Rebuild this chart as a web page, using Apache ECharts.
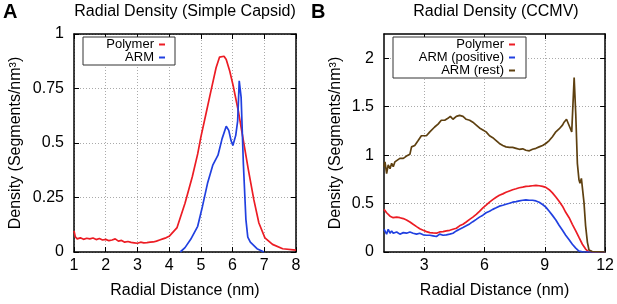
<!DOCTYPE html>
<html>
<head>
<meta charset="utf-8">
<script src="https://cdn.jsdelivr.net/npm/echarts@6/dist/echarts.min.js"></script>
<style>
  html, body { margin: 0; padding: 0; background: #fff; }
  #chart { width: 617px; height: 304px; }
</style>
</head>
<body>
<div id="chart"></div>
<script>
// panel A : simple capsid
const distA_polymer = [1.0, 1.04, 1.1, 1.2, 1.3, 1.4, 1.5, 1.6, 1.7, 1.8, 1.9, 2.0, 2.1, 2.2, 2.3, 2.4, 2.5, 2.6, 2.7, 2.8, 2.9, 3.0,
    3.1, 3.2, 3.3, 3.4, 3.5, 3.6, 3.7, 3.8, 3.9, 4.0, 4.25, 4.5, 4.73, 4.9, 5.0, 5.16, 5.32, 5.48, 5.59, 5.73, 5.8, 5.91,
    6.02, 6.18, 6.34, 6.5, 6.67, 6.83, 7.02, 7.26, 7.58, 8.0];
const densA_polymer = [0.097, 0.07, 0.06, 0.065, 0.058, 0.063, 0.06, 0.064, 0.057, 0.062, 0.055, 0.058, 0.052, 0.055, 0.06, 0.05,
    0.053, 0.045, 0.048, 0.044, 0.042, 0.04, 0.045, 0.042, 0.043, 0.045, 0.046, 0.05, 0.055, 0.06, 0.065, 0.072, 0.112,
    0.224, 0.345, 0.45, 0.527, 0.633, 0.74, 0.845, 0.894, 0.898, 0.883, 0.83, 0.762, 0.648, 0.512, 0.376, 0.24, 0.133,
    0.065, 0.035, 0.015, 0.009];
const distA_arm = [4.35, 4.5, 4.68, 4.9, 5.05, 5.21, 5.38, 5.54, 5.67, 5.8, 5.88, 5.95, 6.01, 6.1, 6.16, 6.21, 6.27, 6.34, 6.42,
    6.48, 6.56, 6.77, 6.99];
const densA_arm = [0, 0.02, 0.058, 0.118, 0.209, 0.315, 0.40, 0.444, 0.52, 0.577, 0.558, 0.512, 0.489, 0.535, 0.6, 0.785, 0.709,
    0.406, 0.15, 0.068, 0.045, 0.015, 0];

// panel B : CCMV
const distB = [1.0, 1.13, 1.21, 1.30, 1.38, 1.46, 1.63, 1.79, 1.96, 2.12, 2.29, 2.45, 2.62, 2.78, 2.95, 3.11, 3.28, 3.44, 3.61,
    3.77, 3.94, 4.10, 4.27, 4.43, 4.60, 4.76, 4.93, 5.09, 5.26, 5.42, 5.59, 5.75, 5.92, 6.08, 6.25, 6.41, 6.58, 6.74, 6.91,
    7.07, 7.24, 7.40, 7.57, 7.73, 7.90, 8.06, 8.23, 8.39, 8.56, 8.72, 8.89, 9.05, 9.22, 9.38, 9.55, 9.71, 9.88, 10.04,
    10.21, 10.37, 10.54, 10.70, 10.87, 11.03, 11.16, 11.36, 12.0];
const densB_polymer = [0.44, 0.405, 0.42, 0.37, 0.39, 0.354, 0.36, 0.354, 0.345, 0.33, 0.31, 0.286, 0.262, 0.24, 0.224, 0.21, 0.2,
    0.197, 0.194, 0.207, 0.21, 0.218, 0.224, 0.235, 0.245, 0.27, 0.286, 0.31, 0.337, 0.36, 0.388, 0.42, 0.456, 0.483, 0.514,
    0.54, 0.565, 0.585, 0.60, 0.616, 0.63, 0.643, 0.653, 0.663, 0.67, 0.677, 0.68, 0.684, 0.687, 0.684, 0.677, 0.667, 0.643,
    0.61, 0.568, 0.524, 0.473, 0.41, 0.354, 0.286, 0.218, 0.15, 0.08, 0.03, 0.007, 0.002, 0];
const densB_armPos = [0.235, 0.184, 0.235, 0.194, 0.218, 0.194, 0.207, 0.184, 0.2, 0.194, 0.207, 0.194, 0.184, 0.194, 0.177,
    0.173, 0.173, 0.167, 0.16, 0.184, 0.173, 0.177, 0.184, 0.194, 0.218, 0.235, 0.252, 0.27, 0.29, 0.313, 0.337, 0.36, 0.38,
    0.405, 0.42, 0.44, 0.456, 0.473, 0.483, 0.493, 0.503, 0.514, 0.52, 0.527, 0.534, 0.537, 0.534, 0.534, 0.527, 0.514, 0.49,
    0.463, 0.42, 0.378, 0.33, 0.276, 0.224, 0.173, 0.126, 0.08, 0.04, 0.01, 0.002, 0, 0, 0, 0];
const distB_rest = [1.0, 1.05, 1.1, 1.13, 1.21, 1.30, 1.38, 1.46, 1.54, 1.63, 1.79, 1.96, 2.12, 2.29, 2.37, 2.53, 2.70, 2.86,
    2.95, 3.11, 3.28, 3.52, 3.69, 3.85, 4.02, 4.18, 4.30, 4.43, 4.60, 4.76, 4.93, 5.09, 5.26, 5.42, 5.59, 5.75, 5.92, 6.08,
    6.25, 6.41, 6.58, 6.74, 6.91, 7.07, 7.24, 7.40, 7.57, 7.73, 7.90, 8.06, 8.23, 8.39, 8.56, 8.72, 8.89, 9.05, 9.22, 9.38,
    9.55, 9.71, 9.88, 9.96, 10.08, 10.16, 10.24, 10.34, 10.39, 10.46, 10.54, 10.62, 10.70, 10.75, 10.82, 10.87, 10.95,
    11.03, 11.12, 11.20, 11.36, 12.0];
const densB_rest = [0.88, 0.93, 0.915, 0.81, 0.90, 0.86, 0.915, 0.88, 0.93, 0.95, 0.966, 0.966, 0.99, 1.01, 1.085, 1.10, 1.15,
    1.20, 1.18, 1.20, 1.24, 1.29, 1.32, 1.36, 1.36, 1.38, 1.40, 1.37, 1.40, 1.41, 1.40, 1.37, 1.36, 1.34, 1.31, 1.28, 1.26,
    1.24, 1.20, 1.18, 1.15, 1.12, 1.10, 1.085, 1.08, 1.08, 1.07, 1.06, 1.065, 1.05, 1.044, 1.06, 1.07, 1.085, 1.10, 1.12,
    1.15, 1.19, 1.24, 1.27, 1.31, 1.34, 1.37, 1.36, 1.29, 1.24, 1.22, 1.80, 1.425, 0.915, 0.745, 0.71, 0.76, 0.745, 0.51,
    0.27, 0.10, 0.02, 0.005, 0];

const xTicksA = [1, 2, 3, 4, 5, 6, 7, 8];
const yTicksA = [0, 0.25, 0.5, 0.75, 1];
const xTicksB = [3, 6, 9, 12];
const yTicksB = [0, 0.5, 1, 1.5, 2];

const FONT = '"Liberation Sans", Arial, sans-serif';
const RED = '#ec1c24';
const BLUE = '#2140e0';
const BROWN = '#5e4010';

function pairs(xs, ys) {
    return xs.map(function (x, i) { return [x, ys[i]]; });
}

// 坐标轴 (gnuplot 风格: 四边框, 刻度朝内)
function axis(kind, grid, range, ticks, mirror, extra) {
    const a = {
        type: 'value',
        gridIndex: grid,
        min: range[0],
        max: range[1],
        position: kind === 'x' ? (mirror ? 'top' : 'bottom') : (mirror ? 'right' : 'left'),
        axisLine: { show: true, onZero: false, lineStyle: { color: '#000', width: 1.5 } },
        axisTick: { show: true, inside: true, length: 5, customValues: ticks, lineStyle: { color: '#000', width: 1 } },
        axisLabel: {
            show: !mirror, customValues: ticks, color: '#000', fontSize: 16, fontFamily: FONT,
            margin: kind === 'x' ? 6 : 10
        },
        splitLine: { show: !mirror, lineStyle: { color: '#aaa', type: [1, 2], width: 1 } }
    };
    return Object.assign(a, extra || {});
}

const nameStyle = { color: '#000', fontSize: 16, fontFamily: FONT };

const chart = echarts.init(document.getElementById('chart'));
chart.setOption({
    animation: false,
    textStyle: { fontFamily: FONT },
    grid: [
        { left: 74, right: 321, top: 34, bottom: 51 },
        { left: 384, right: 10, top: 34, bottom: 51 }
    ],
    xAxis: [
        axis('x', 0, [1, 8], xTicksA, false, { name: 'Radial Distance (nm)', nameLocation: 'middle', nameGap: 31, nameTextStyle: nameStyle }),
        axis('x', 0, [1, 8], xTicksA, true),
        axis('x', 1, [1, 12], xTicksB, false, { name: 'Radial Distance (nm)', nameLocation: 'middle', nameGap: 31, nameTextStyle: nameStyle }),
        axis('x', 1, [1, 12], xTicksB, true)
    ],
    yAxis: [
        axis('y', 0, [0, 1], yTicksA, false, { name: 'Density (Segments/nm³)', nameLocation: 'middle', nameGap: 50, nameTextStyle: nameStyle }),
        axis('y', 0, [0, 1], yTicksA, true),
        axis('y', 1, [0, 2.25], yTicksB, false, { name: 'Density (Segments/nm³)', nameLocation: 'middle', nameGap: 40, nameTextStyle: nameStyle }),
        axis('y', 1, [0, 2.25], yTicksB, true)
    ],
    legend: [
        {
            data: ['Polymer', 'ARM'],
            left: 83, top: 37, orient: 'vertical', align: 'right',
            padding: [1, 10, 1, 6], itemGap: 0, itemWidth: 6, itemHeight: 2, icon: 'rect',
            borderColor: '#333', borderWidth: 1, backgroundColor: '#fff', selectedMode: false,
            formatter: '{t|{name}}',
            textStyle: { rich: { t: { width: 65, align: 'right', fontSize: 13, lineHeight: 15, color: '#000', fontFamily: FONT } } }
        },
        {
            data: ['Polymer', 'ARM (positive)', 'ARM (rest)'],
            left: 393, top: 37, orient: 'vertical', align: 'right',
            padding: [1, 11, 1, 6], itemGap: 0, itemWidth: 6, itemHeight: 2, icon: 'rect',
            borderColor: '#333', borderWidth: 1, backgroundColor: '#fff', selectedMode: false,
            formatter: '{t|{name}}',
            textStyle: { rich: { t: { width: 105, align: 'right', fontSize: 13, lineHeight: 15, color: '#000', fontFamily: FONT } } }
        }
    ],
    graphic: [
        { type: 'text', x: 3, y: 12, style: { text: 'A', font: 'bold 20px ' + FONT, fill: '#000', verticalAlign: 'middle' } },
        { type: 'text', x: 185, y: 12, style: { text: 'Radial Density (Simple Capsid)', font: '16px ' + FONT, fill: '#000', align: 'center', verticalAlign: 'middle' } },
        { type: 'text', x: 311, y: 12, style: { text: 'B', font: 'bold 20px ' + FONT, fill: '#000', verticalAlign: 'middle' } },
        { type: 'text', x: 496, y: 12, style: { text: 'Radial Density (CCMV)', font: '16px ' + FONT, fill: '#000', align: 'center', verticalAlign: 'middle' } }
    ],
    series: [
        { name: 'Polymer', type: 'line', xAxisIndex: 0, yAxisIndex: 0, showSymbol: false, color: RED, lineStyle: { width: 1.7 }, data: pairs(distA_polymer, densA_polymer) },
        { name: 'ARM', type: 'line', xAxisIndex: 0, yAxisIndex: 0, showSymbol: false, color: BLUE, lineStyle: { width: 1.7 }, data: pairs(distA_arm, densA_arm) },
        { name: 'Polymer', type: 'line', xAxisIndex: 2, yAxisIndex: 2, showSymbol: false, color: RED, lineStyle: { width: 1.7 }, data: pairs(distB, densB_polymer) },
        { name: 'ARM (positive)', type: 'line', xAxisIndex: 2, yAxisIndex: 2, showSymbol: false, color: BLUE, lineStyle: { width: 1.7 }, data: pairs(distB, densB_armPos) },
        { name: 'ARM (rest)', type: 'line', xAxisIndex: 2, yAxisIndex: 2, showSymbol: false, color: BROWN, lineStyle: { width: 1.7 }, data: pairs(distB_rest, densB_rest) }
    ]
});
</script>
</body>
</html>
